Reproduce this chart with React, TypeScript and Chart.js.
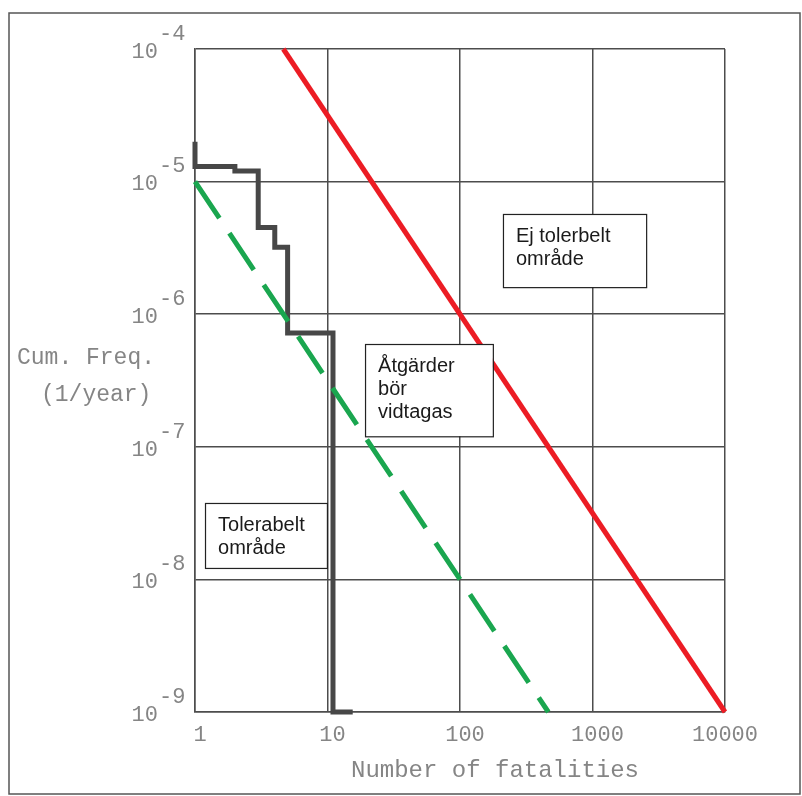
import React, { useEffect, useRef } from "react";
import { Chart, registerables } from "chart.js";

Chart.register(...registerables);

// X axis: number of fatalities (log), Y axis: cumulative frequency (log)
const X_TICKS = [1, 10, 100, 1000, 10000];
const X_TICK_LABELS = ["1", "10", "100", "1000", "10000"];
const Y_TICKS = [1e-9, 1e-8, 1e-7, 1e-6, 1e-5, 1e-4];
const Y_TICK_EXPONENTS = ["-9", "-8", "-7", "-6", "-5", "-4"];

// Upper limit (not tolerable above)
const UPPER_N = [4.64, 10000];
const UPPER_F = [1e-4, 1e-9];

// Lower limit (tolerable below)
const LOWER_N = [1, 464];
const LOWER_F = [1e-5, 1e-9];

// Computed F-N curve (stepped)
const CURVE_N = [1, 2, 3, 4, 5, 11, 15.5];
const CURVE_F = [2e-5, 1.3e-5, 1.2e-5, 4.5e-6, 3.2e-6, 7.2e-7, 1e-9];

// Region labels (data-space boxes)
const REGION_TEXTS = [
  ["Ej tolerbelt", "område"],
  ["Åtgärder", "bör", "vidtagas"],
  ["Tolerabelt", "område"],
];
const REGION_X = [
  [211, 2540],
  [19.2, 177],
  [1.19, 9.9],
];
const REGION_Y = [
  [5.7e-6, 1.6e-6],
  [5.96e-7, 1.2e-7],
  [3.77e-8, 1.22e-8],
];

const X_TITLE = "Number of fatalities";
const Y_TITLE = ["Cum. Freq.", "(1/year)"];

const GRID = "#4d4d4d";
const LABEL = "#858585";
const MONO = "'Liberation Mono', 'Courier New', monospace";
const SANS = "'Liberation Sans', Arial, sans-serif";

const toPts = (xs: number[], ys: number[]) => xs.map((x, i) => ({ x, y: ys[i] }));

const decorPlugin = {
  id: "decor",
  afterDraw(chart: any) {
    const ctx = chart.ctx as CanvasRenderingContext2D;
    const xs = chart.scales.x;
    const ys = chart.scales.y;
    ctx.save();

    // outer frame
    ctx.strokeStyle = "#555";
    ctx.lineWidth = 1.5;
    ctx.strokeRect(9, 13, 791, 781);

    // y tick labels: 10 with superscript exponent
    ctx.fillStyle = LABEL;
    ctx.font = `22px ${MONO}`;
    ctx.textBaseline = "middle";
    Y_TICKS.forEach((v, i) => {
      const py = ys.getPixelForValue(v);
      ctx.textAlign = "right";
      ctx.fillText("10", 158, py + 3);
      ctx.textAlign = "left";
      ctx.fillText(Y_TICK_EXPONENTS[i], 159, py - 15);
    });

    // x tick labels
    ctx.textAlign = "center";
    X_TICKS.forEach((v, i) => {
      const px = xs.getPixelForValue(v);
      const off = i === X_TICKS.length - 1 ? 0 : 5;
      ctx.fillText(X_TICK_LABELS[i], px + off, 735);
    });

    // axis titles
    ctx.font = `24px ${MONO}`;
    ctx.textAlign = "center";
    ctx.fillText(X_TITLE, 495, 771);
    ctx.textAlign = "left";
    ctx.font = `23px ${MONO}`;
    ctx.fillText(Y_TITLE[0], 17, 358);
    ctx.fillText(Y_TITLE[1], 41, 395);

    // region boxes
    REGION_TEXTS.forEach((lines, i) => {
      const x0 = xs.getPixelForValue(REGION_X[i][0]);
      const x1 = xs.getPixelForValue(REGION_X[i][1]);
      const y0 = ys.getPixelForValue(REGION_Y[i][0]);
      const y1 = ys.getPixelForValue(REGION_Y[i][1]);
      ctx.fillStyle = "#ffffff";
      ctx.fillRect(x0, y0, x1 - x0, y1 - y0);
      ctx.strokeStyle = "#222";
      ctx.lineWidth = 1.2;
      ctx.strokeRect(x0 + 0.5, y0 + 0.5, x1 - x0, y1 - y0);
      ctx.fillStyle = "#1a1a1a";
      ctx.font = `20px ${SANS}`;
      ctx.textAlign = "left";
      ctx.textBaseline = "alphabetic";
      lines.forEach((t, j) => {
        ctx.fillText(t, x0 + 13, y0 + 28 + j * 23);
      });
      ctx.textBaseline = "middle";
    });

    ctx.restore();
  },
};

export default function App() {
  const ref = useRef<HTMLCanvasElement | null>(null);

  useEffect(() => {
    if (!ref.current) return;
    const chart = new Chart(ref.current, {
      type: "line",
      data: {
        datasets: [
          {
            label: "Upper",
            data: toPts(UPPER_N, UPPER_F),
            borderColor: "#ec1c24",
            borderWidth: 5,
            pointRadius: 0,
            fill: false,
            clip: false as any,
            borderCapStyle: "butt",
          },
          {
            label: "Lower",
            data: toPts(LOWER_N, LOWER_F),
            borderColor: "#1aa64f",
            borderWidth: 5,
            borderDash: [44, 18],
            pointRadius: 0,
            fill: false,
            clip: false as any,
          },
          {
            label: "Curve",
            data: toPts(CURVE_N, CURVE_F),
            borderColor: "#474747",
            borderWidth: 5,
            stepped: "after",
            pointRadius: 0,
            fill: false,
            clip: false as any,
            borderJoinStyle: "miter",
          },
        ],
      },
      options: {
        animation: false,
        responsive: true,
        maintainAspectRatio: false,
        layout: { padding: { left: 195, top: 49, right: 77, bottom: 84 } },
        plugins: { legend: { display: false }, tooltip: { enabled: false } },
        scales: {
          x: {
            type: "logarithmic",
            min: 1,
            max: 10000,
            afterBuildTicks: (s: any) => {
              s.ticks = X_TICKS.map((v) => ({ value: v }));
            },
            afterFit: (s: any) => {
              s.height = 0;
            },
            ticks: { display: false },
            grid: { color: GRID, lineWidth: 1.5, drawTicks: false },
            border: { display: true, color: GRID, width: 1.5 },
          },
          y: {
            type: "logarithmic",
            min: 1e-9,
            max: 1e-4,
            afterBuildTicks: (s: any) => {
              s.ticks = Y_TICKS.map((v) => ({ value: v }));
            },
            afterFit: (s: any) => {
              s.width = 0;
            },
            ticks: { display: false },
            grid: { color: GRID, lineWidth: 1.5, drawTicks: false },
            border: { display: true, color: GRID, width: 1.5 },
          },
        },
      },
      plugins: [decorPlugin],
    });
    return () => chart.destroy();
  }, []);

  return (
    <div
      style={{
        position: "fixed",
        left: 0,
        top: 0,
        width: 802,
        height: 796,
        background: "#ffffff",
      }}
    >
      <canvas ref={ref} />
    </div>
  );
}
